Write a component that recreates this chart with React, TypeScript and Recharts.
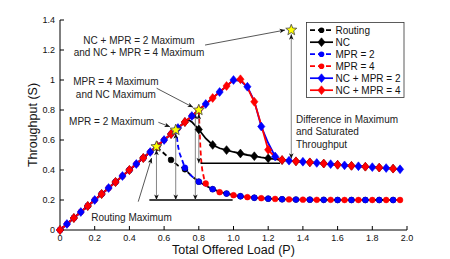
import React from "react";
import {
  ComposedChart,
  Line,
  Scatter,
  XAxis,
  YAxis,
  ReferenceLine,
  ReferenceDot,
} from "recharts";

const FONT = "'Liberation Sans', Arial, Helvetica, sans-serif";

// offered load grid (P) shared by the simulated curves
const load = [
  0, 0.04, 0.08, 0.12, 0.16, 0.2, 0.24, 0.28, 0.32, 0.36,
  0.4, 0.44, 0.48, 0.52, 0.56, 0.6, 0.64, 0.68, 0.72, 0.76,
  0.8, 0.84, 0.88, 0.92, 0.96, 1.0, 1.04, 1.08, 1.12, 1.16,
  1.2, 1.24, 1.28, 1.32, 1.36, 1.4, 1.44, 1.48, 1.52, 1.56,
  1.6, 1.64, 1.68, 1.72, 1.76, 1.8, 1.84, 1.88, 1.92, 1.96,
];

// throughput (S) per scheme, one value per load step
const routing = [
  0, 0.04, 0.08, 0.12, 0.16, 0.2, 0.24, 0.28, 0.32, 0.36,
  0.4, 0.44, 0.48, 0.52, 0.55, 0.51, 0.467, 0.43, 0.405, 0.358,
  0.322, 0.295, 0.272, 0.255, 0.243, 0.232, 0.225, 0.219, 0.215, 0.212,
  0.209, 0.207, 0.205, 0.204, 0.203, 0.202, 0.202, 0.201, 0.201, 0.201,
  0.2, 0.2, 0.2, 0.2, 0.2, 0.2, 0.2, 0.2, 0.2, 0.2,
];
const nc = [
  0, 0.04, 0.08, 0.12, 0.16, 0.2, 0.24, 0.28, 0.32, 0.36,
  0.4, 0.44, 0.48, 0.52, 0.56, 0.6, 0.64, 0.68, 0.72, 0.72,
  0.67, 0.61, 0.567, 0.545, 0.533, 0.52, 0.51, 0.5, 0.492, 0.484,
  0.478, 0.472, 0.466, 0.462, 0.458, 0.455, 0.451, 0.447, 0.443, 0.439,
  0.435, 0.431, 0.428, 0.425, 0.422, 0.419, 0.416, 0.413, 0.409, 0.405,
];
const mpr2 = [
  0, 0.04, 0.08, 0.12, 0.16, 0.2, 0.24, 0.28, 0.32, 0.36,
  0.4, 0.44, 0.48, 0.52, 0.56, 0.6, 0.64, 0.56, 0.415, 0.358,
  0.322, 0.295, 0.272, 0.255, 0.243, 0.232, 0.225, 0.219, 0.215, 0.212,
  0.209, 0.207, 0.205, 0.204, 0.203, 0.202, 0.202, 0.201, 0.201, 0.201,
  0.2, 0.2, 0.2, 0.2, 0.2, 0.2, 0.2, 0.2, 0.2, 0.2,
];
const mpr4 = [
  0, 0.04, 0.08, 0.12, 0.16, 0.2, 0.24, 0.28, 0.32, 0.36,
  0.4, 0.44, 0.48, 0.52, 0.56, 0.6, 0.64, 0.68, 0.72, 0.76,
  0.8, 0.31, 0.268, 0.252, 0.24, 0.232, 0.225, 0.219, 0.215, 0.212,
  0.209, 0.207, 0.205, 0.204, 0.203, 0.202, 0.202, 0.201, 0.201, 0.201,
  0.2, 0.2, 0.2, 0.2, 0.2, 0.2, 0.2, 0.2, 0.2, 0.2,
];
const ncMpr2 = [
  0, 0.04, 0.08, 0.12, 0.16, 0.2, 0.24, 0.28, 0.32, 0.36,
  0.4, 0.44, 0.48, 0.52, 0.56, 0.6, 0.64, 0.68, 0.72, 0.76,
  0.8, 0.84, 0.88, 0.92, 0.96, 1.0, 0.995, 0.955, 0.86, 0.69,
  0.58, 0.49, 0.468, 0.462, 0.458, 0.455, 0.451, 0.447, 0.443, 0.439,
  0.435, 0.431, 0.428, 0.425, 0.422, 0.419, 0.416, 0.413, 0.409, 0.405,
];
const ncMpr4 = [
  0, 0.04, 0.08, 0.12, 0.16, 0.2, 0.24, 0.28, 0.32, 0.36,
  0.4, 0.44, 0.48, 0.52, 0.56, 0.6, 0.64, 0.68, 0.72, 0.76,
  0.8, 0.84, 0.88, 0.92, 0.96, 1.0, 1.005, 0.95, 0.855, 0.7,
  0.535, 0.485, 0.467, 0.462, 0.458, 0.455, 0.451, 0.447, 0.443, 0.439,
  0.435, 0.431, 0.428, 0.425, 0.422, 0.419, 0.416, 0.413, 0.409, 0.405,
];

// extra samples off the grid where the curves turn sharply: [load, throughput]
const routingPeak = [[0.556, 0.556]];
const ncPeak = [[0.74, 0.735]];
const mpr2Drop = [[0.667, 0.667], [0.675, 0.61], [0.69, 0.51], [0.7, 0.478], [0.74, 0.382]];
const mpr4Drop = [[0.805, 0.66], [0.81, 0.53], [0.815, 0.45], [0.82, 0.4], [0.83, 0.345], [0.86, 0.283]];

// theoretical maxima (stars)
const maxLoad = [0.556, 0.667, 0.8, 1.333];
const maxThroughput = [0.556, 0.667, 0.8, 1.333];

// saturated levels marked with horizontal bars
const satLevel = [0.2, 0.445];
const satFrom = [0.515, 0.81];
const satTo = [0.995, 1.268];

const xTicks = [0, 0.2, 0.4, 0.6, 0.8, 1.0, 1.2, 1.4, 1.6, 1.8, 2.0];
const xTickLabels = ["0", "0.2", "0.4", "0.6", "0.8", "1.0", "1.2", "1.4", "1.6", "1.8", "2.0"];
const yTicks = [0, 0.2, 0.4, 0.6, 0.8, 1.0, 1.2, 1.4];
const yTickLabels = ["0", "0.2", "0.4", "0.6", "0.8", "1", "1.2", "1.4"];

function build(ys: number[], extra: number[][]) {
  const pts = load.map((x, i) => ({ x, y: ys[i] }));
  extra.forEach(([x, y]) => pts.push({ x, y }));
  return pts.sort((a, b) => a.x - b.x);
}

const series = [
  { name: "Routing", data: build(routing, routingPeak), color: "#000000", dashed: true, mark: "circle", phase: 0 },
  { name: "NC", data: build(nc, ncPeak), color: "#000000", dashed: false, mark: "diamond", phase: 0 },
  { name: "MPR = 2", data: build(mpr2, mpr2Drop), color: "#0000ff", dashed: true, mark: "circle", phase: 0 },
  { name: "MPR = 4", data: build(mpr4, mpr4Drop), color: "#ff0000", dashed: true, mark: "circle", phase: 1 },
  { name: "NC + MPR = 2", data: build(ncMpr2, []), color: "#0000ff", dashed: false, mark: "diamond", phase: 1 },
  { name: "NC + MPR = 4", data: build(ncMpr4, []), color: "#ff0000", dashed: false, mark: "diamond", phase: 0 },
];

const maxima = maxLoad.map((x, i) => ({ x, y: maxThroughput[i] }));

const notes = [
  { x: 0.455, y: 1.243, anchor: "middle", lines: ["NC + MPR = 2 Maximum", "and NC + MPR = 4 Maximum"] },
  { x: 0.322, y: 0.965, anchor: "middle", lines: ["MPR = 4 Maximum", "and NC Maximum"] },
  { x: 0.298, y: 0.703, anchor: "middle", lines: ["MPR = 2 Maximum"] },
  { x: 0.412, y: 0.061, anchor: "middle", lines: ["Routing Maximum"] },
  { x: 1.36, y: 0.713, anchor: "start", lines: ["Difference in Maximum", "and Saturated", "Throughput"] },
];

const pointers = [
  { from: [0.836, 1.233], to: [1.297, 1.333] },
  { from: [0.557, 0.945], to: [0.767, 0.818] },
  { from: [0.567, 0.718], to: [0.634, 0.688] },
  { from: [0.451, 0.189], to: [0.528, 0.48] },
];

const gaps = [
  { x: 0.556, top: 0.535, bottom: 0.2 },
  { x: 0.667, top: 0.645, bottom: 0.2 },
  { x: 0.78, top: 0.775, bottom: 0.2 },
  { x: 0.8, top: 0.775, bottom: 0.445 },
  { x: 1.333, top: 1.305, bottom: 0.475 },
];

function lookup(ticks: number[], labels: string[], v: number) {
  const i = ticks.findIndex((t) => Math.abs(t - v) < 1e-6);
  return i >= 0 ? labels[i] : String(v);
}

function diamond(cx: number, cy: number) {
  return `M${cx},${cy - 4.4}L${cx + 3.6},${cy}L${cx},${cy + 4.4}L${cx - 3.6},${cy}Z`;
}

function renderMarker(name: string, kind: string, color: string, phase: number) {
  return (p: any) => {
    const { cx, cy, payload, index } = p;
    const key = `${name}-${index}`;
    const k = payload.x / 0.04;
    const idx = Math.round(k);
    if (cx == null || cy == null || Math.abs(k - idx) > 1e-6 || idx % 2 !== phase) return <g key={key} />;
    if (kind === "circle") return <circle key={key} cx={cx} cy={cy} r={2.9} fill={color} stroke={color} strokeWidth={0.5} />;
    return <path key={key} d={diamond(cx, cy)} fill={color} stroke={color} strokeWidth={0.6} />;
  };
}

function arrowHead(tx: number, ty: number, fx: number, fy: number) {
  const a = Math.atan2(ty - fy, tx - fx);
  const c = Math.cos(a);
  const s = Math.sin(a);
  const L = 5.5;
  const W = 2.3;
  const N = 4;
  const bx = tx - L * c;
  const by = ty - L * s;
  const nx = tx - N * c;
  const ny = ty - N * s;
  return `M${tx},${ty}L${bx - W * s},${by + W * c}L${nx},${ny}L${bx + W * s},${by - W * c}Z`;
}

const arrowShape = (double: boolean, stroke: string) => (p: any) => {
  const { x1, y1, x2, y2 } = p;
  return (
    <g>
      <line x1={x1} y1={y1} x2={x2} y2={y2} stroke={stroke} strokeWidth={0.9} />
      <path d={arrowHead(x2, y2, x1, y1)} fill="#111" />
      {double && <path d={arrowHead(x1, y1, x2, y2)} fill="#111" />}
    </g>
  );
};

const Star = (p: any) => {
  const { cx, cy } = p;
  const pts: string[] = [];
  for (let i = 0; i < 10; i++) {
    const r = i % 2 === 0 ? 5.8 : 2.5;
    const a = -Math.PI / 2 + (i * Math.PI) / 5;
    pts.push(`${cx + r * Math.cos(a)},${cy + r * Math.sin(a)}`);
  }
  return <polygon points={pts.join(" ")} fill="#ffff00" stroke="#444" strokeWidth={0.8} />;
};

const XTitle = (p: any) => {
  const vb = p.viewBox || { x: 60, y: 230, width: 347, height: 29 };
  return (
    <text x={vb.x + vb.width / 2} y={vb.y + 24} textAnchor="middle" fontSize={12.5} fontFamily={FONT} fill="#111">
      Total Offered Load (P)
    </text>
  );
};

const YTitle = (p: any) => {
  const vb = p.viewBox || { x: 0, y: 20, width: 60, height: 210 };
  const cx = vb.x + 33;
  const cy = vb.y + vb.height / 2;
  return (
    <text x={cx} y={cy} transform={`rotate(-90 ${cx} ${cy})`} textAnchor="middle" dominantBaseline="central" fontSize={12.5} fontFamily={FONT} fill="#111">
      Throughput (S)
    </text>
  );
};

function LegendBox() {
  const top = 30.2;
  const step = 12;
  return (
    <svg width={450} height={259} style={{ position: "absolute", left: 0, top: 0, pointerEvents: "none" }}>
      <rect x={306.5} y={22.5} width={97.5} height={75} fill="#ffffff" stroke="#333" strokeWidth={0.8} />
      {series.map((s, i) => {
        const y = top + i * step;
        const mx = 321.5;
        return (
          <g key={s.name}>
            <line x1={310} y1={y} x2={333} y2={y} stroke={s.color} strokeWidth={1.7} strokeDasharray={s.dashed ? "5 3" : undefined} />
            {s.mark === "circle" ? (
              <circle cx={mx} cy={y} r={2.8} fill={s.color} />
            ) : (
              <path d={diamond(mx, y)} fill={s.color} stroke={s.color} strokeWidth={0.6} />
            )}
            <text x={335.5} y={y + 3.6} fontSize={10} fontFamily={FONT} fill="#111">
              {s.name}
            </text>
          </g>
        );
      })}
    </svg>
  );
}

export default function App() {
  const axisStroke = { stroke: "#000", strokeWidth: 1 };
  const tickStyle = { fill: "#111", fontSize: 9, fontFamily: FONT };
  return (
    <div style={{ position: "absolute", left: 0, top: 0, width: 450, height: 259, background: "#fff" }}>
      <ComposedChart width={450} height={259} margin={{ top: 20, right: 43, bottom: 0, left: 0 }}>
        <XAxis
          dataKey="x"
          type="number"
          domain={[0, 2]}
          ticks={xTicks}
          tickFormatter={(v) => lookup(xTicks, xTickLabels, v)}
          height={29}
          tickSize={-4}
          tickMargin={9}
          tick={tickStyle}
          axisLine={axisStroke}
          tickLine={axisStroke}
          label={<XTitle />}
        />
        <XAxis
          xAxisId="top"
          orientation="top"
          type="number"
          domain={[0, 2]}
          ticks={xTicks}
          tickFormatter={() => ""}
          height={0}
          tickSize={-4}
          axisLine={axisStroke}
          tickLine={axisStroke}
        />
        <YAxis
          type="number"
          domain={[0, 1.4]}
          ticks={yTicks}
          tickFormatter={(v) => lookup(yTicks, yTickLabels, v)}
          width={60}
          tickSize={-4}
          tickMargin={9}
          tick={tickStyle}
          axisLine={axisStroke}
          tickLine={axisStroke}
          label={<YTitle />}
        />
        <YAxis
          yAxisId="right"
          orientation="right"
          type="number"
          domain={[0, 1.4]}
          ticks={yTicks}
          tickFormatter={() => ""}
          width={0}
          tickSize={-4}
          axisLine={axisStroke}
          tickLine={axisStroke}
        />

        {series.map((s) => (
          <Line
            key={s.name}
            name={s.name}
            data={s.data}
            dataKey="y"
            type="linear"
            stroke={s.color}
            strokeWidth={1.8}
            strokeDasharray={s.dashed ? "5 3" : undefined}
            dot={renderMarker(s.name, s.mark, s.color, s.phase)}
            activeDot={false}
            isAnimationActive={false}
          />
        ))}

        {satLevel.map((y, i) => (
          <ReferenceLine
            key={`sat-${i}`}
            segment={[{ x: satFrom[i], y }, { x: satTo[i], y }]}
            stroke="#000"
            strokeWidth={1.4}
            ifOverflow="visible"
          />
        ))}
        {gaps.map((g, i) => (
          <ReferenceLine
            key={`gap-${i}`}
            segment={[{ x: g.x, y: g.top }, { x: g.x, y: g.bottom }]}
            ifOverflow="visible"
            shape={arrowShape(true, "#777")}
          />
        ))}
        {pointers.map((a, i) => (
          <ReferenceLine
            key={`ptr-${i}`}
            segment={[{ x: a.from[0], y: a.from[1] }, { x: a.to[0], y: a.to[1] }]}
            ifOverflow="visible"
            shape={arrowShape(false, "#444")}
          />
        ))}
        {notes.map((n, i) => (
          <ReferenceDot
            key={`note-${i}`}
            x={n.x}
            y={n.y}
            ifOverflow="visible"
            shape={(p: any) => (
              <text x={p.cx} y={p.cy} textAnchor={n.anchor as any} fontSize={10} fontFamily={FONT} fill="#222">
                {n.lines.map((t, j) => (
                  <tspan key={j} x={p.cx} dy={j === 0 ? 0 : 12.3}>
                    {t}
                  </tspan>
                ))}
              </text>
            )}
          />
        ))}

        <Scatter data={maxima} dataKey="y" shape={Star} isAnimationActive={false} />
      </ComposedChart>
      <LegendBox />
    </div>
  );
}
